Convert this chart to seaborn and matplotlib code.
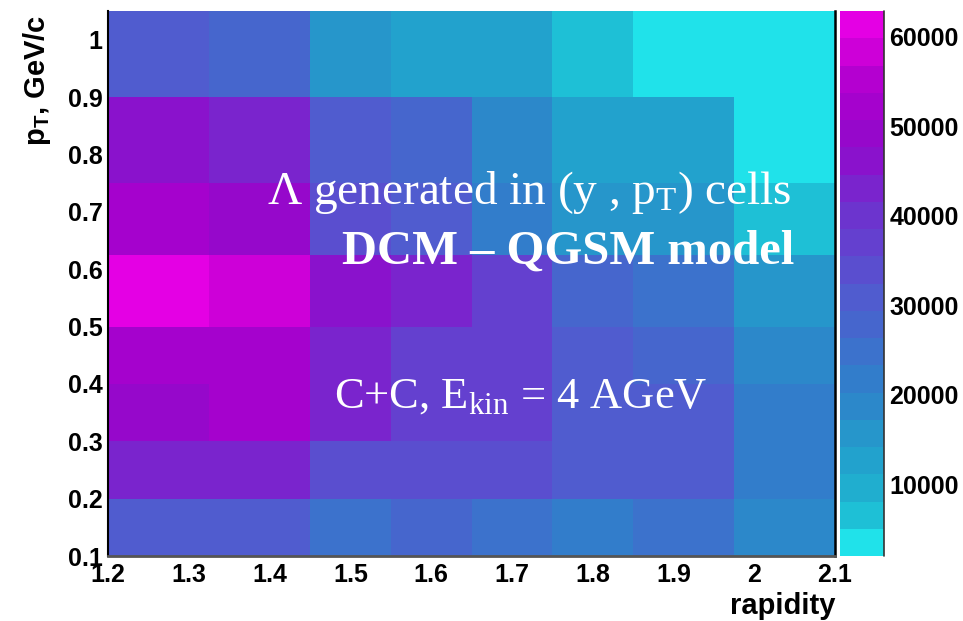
import numpy as np
import pandas as pd
import matplotlib
matplotlib.use("Agg")
import matplotlib.pyplot as plt
from matplotlib.colors import ListedColormap
from matplotlib.ticker import MultipleLocator, AutoMinorLocator, FormatStrFormatter
import seaborn as sns

# Bin edges: rapidity (x) and transverse momentum pT in GeV/c (y)
rapidity_edges = [1.2, 1.325, 1.45, 1.55, 1.65, 1.75, 1.85, 1.975, 2.1]
pt_edges = [0.1, 0.2, 0.3, 0.4, 0.5, 0.625, 0.75, 0.9, 1.05]

# Lambda yield per (y, pT) cell; one list per pT row (low to high),
# entries ordered along rapidity
counts_pt_010_020 = [30800, 30200, 25300, 27600, 24900, 21100, 25600, 19000]
counts_pt_020_030 = [42700, 43000, 34800, 34300, 33800, 31900, 31300, 21500]
counts_pt_030_040 = [50100, 51900, 42800, 37900, 37000, 30900, 30500, 22600]
counts_pt_040_050 = [52300, 52000, 43100, 37600, 37300, 31600, 28900, 19400]
counts_pt_050_0625 = [62900, 58300, 46000, 43500, 37100, 28400, 25600, 15300]
counts_pt_0625_075 = [52800, 49300, 34100, 30600, 21900, 16200, 15900, 6900]
counts_pt_075_090 = [46700, 43400, 31000, 28600, 19100, 13100, 12700, 4300]
counts_pt_090_105 = [31400, 27900, 15600, 12900, 12400, 6300, 3100, 2000]

colorbar_ticks = [10000, 20000, 30000, 40000, 50000, 60000]
z_min, z_max = 2000, 62900

# 20-level cool palette (cyan -> blue -> magenta)
palette = ["#20e2ea", "#1ec0d6", "#20aecf", "#22a2cd", "#2696cb",
           "#2c88ca", "#327dcb", "#3c72cc", "#4666cd", "#505ccf",
           "#5a4ecf", "#6440cf", "#6c34ce", "#7a24cd", "#8a12cc",
           "#9608cb", "#a502cd", "#b400d0", "#cd00d8", "#e400e4"]
cmap = ListedColormap(palette)

rows = [counts_pt_010_020, counts_pt_020_030, counts_pt_030_040,
        counts_pt_040_050, counts_pt_050_0625, counts_pt_0625_075,
        counts_pt_075_090, counts_pt_090_105]
x_centers = (np.array(rapidity_edges[:-1]) + np.array(rapidity_edges[1:])) / 2
p_centers = (np.array(pt_edges[:-1]) + np.array(pt_edges[1:])) / 2
records = [(x, p, w) for p, row in zip(p_centers, rows)
           for x, w in zip(x_centers, row)]
df = pd.DataFrame(records, columns=["rapidity", "pt", "count"])

sns.set_theme(style="ticks")
plt.rcParams["font.family"] = ["Liberation Sans", "DejaVu Sans"]
plt.rcParams["font.weight"] = "bold"
plt.rcParams["text.color"] = "black"
plt.rcParams["axes.labelcolor"] = "black"
plt.rcParams["mathtext.fontset"] = "custom"
plt.rcParams["mathtext.rm"] = "Liberation Serif:weight=normal"
plt.rcParams["mathtext.sf"] = "Liberation Sans:weight=bold"

W, H = 963, 621
fig = plt.figure(figsize=(W / 100, H / 100), dpi=100)
ax = fig.add_axes([108 / W, 65 / H, 727 / W, 545 / H])
cax = fig.add_axes([840 / W, 65 / H, 44 / W, 545 / H])

sns.histplot(data=df, x="rapidity", y="pt", weights="count",
             bins=(rapidity_edges, pt_edges), cmap=cmap,
             vmin=z_min, vmax=z_max, thresh=None,
             cbar=True, cbar_ax=cax, ax=ax, antialiased=False)

ax.set_xlim(1.2, 2.1)
ax.set_ylim(0.1, 1.05)

ax.xaxis.set_major_locator(MultipleLocator(0.1))
ax.xaxis.set_minor_locator(AutoMinorLocator(5))
ax.yaxis.set_major_locator(MultipleLocator(0.1))
ax.yaxis.set_minor_locator(AutoMinorLocator(5))
ax.xaxis.set_major_formatter(FormatStrFormatter("%g"))
ax.yaxis.set_major_formatter(FormatStrFormatter("%g"))

tick_color = "#1a1a1a"
ax.tick_params(axis="x", which="major", direction="in", length=12, width=1.1,
               color=tick_color, labelcolor="black", labelsize=18, pad=5,
               bottom=True, top=False)
ax.tick_params(axis="x", which="minor", direction="in", length=6, width=1.1,
               color=tick_color, bottom=True, top=False)
ax.tick_params(axis="y", which="major", direction="in", length=18, width=1.1,
               color=tick_color, labelcolor="black", labelsize=18, pad=4,
               left=True, right=False)
ax.tick_params(axis="y", which="minor", direction="in", length=9.5, width=1.1,
               color=tick_color, left=True, right=False)

ax.spines["top"].set_visible(False)
ax.spines["left"].set_color("black")
ax.spines["left"].set_linewidth(1.5)
ax.spines["right"].set_color("black")
ax.spines["right"].set_linewidth(1.8)
ax.spines["bottom"].set_color("#555555")
ax.spines["bottom"].set_linewidth(2)

ax.set_xlabel("rapidity", fontsize=21, fontweight="bold", loc="right",
              color="black")
ax.xaxis.set_label_coords(1.0, -0.066)
ax.set_ylabel(r"$\mathsf{p_T}$, GeV/c", fontsize=21, fontweight="bold",
              loc="top", color="black")
ax.yaxis.set_label_coords(-0.075, 0.993)

# Colour scale
cbar = ax.collections[0].colorbar
cbar.set_ticks(colorbar_ticks)
cbar.ax.yaxis.set_major_formatter(FormatStrFormatter("%d"))
cbar.outline.set_visible(False)
cax.tick_params(axis="y", which="both", direction="in", length=18, width=1.1,
                color="#222222", labelcolor="black", labelsize=18, pad=4,
                right=True, left=False)
cax.minorticks_off()
cax.axvline(1, color="#333333", lw=1.2, clip_on=False)

# Annotations on the plot
fig.text(529 / W, 1 - 204.5 / H, r"Λ generated in (y , $\mathrm{p_T}$) cells",
         family="Liberation Serif", fontweight="normal", fontsize=34,
         color="white", ha="center", va="baseline")
fig.text(568 / W, 1 - 263.5 / H, "DCM – QGSM model",
         family="Liberation Serif", fontweight="bold", fontsize=35,
         color="white", ha="center", va="baseline")
fig.text(521 / W, 1 - 408 / H, r"C+C, $\mathrm{E_{kin}}$ = 4 AGeV",
         family="Liberation Serif", fontweight="normal", fontsize=32,
         color="white", ha="center", va="baseline")

fig.savefig("out.png", dpi=100, facecolor="white")
